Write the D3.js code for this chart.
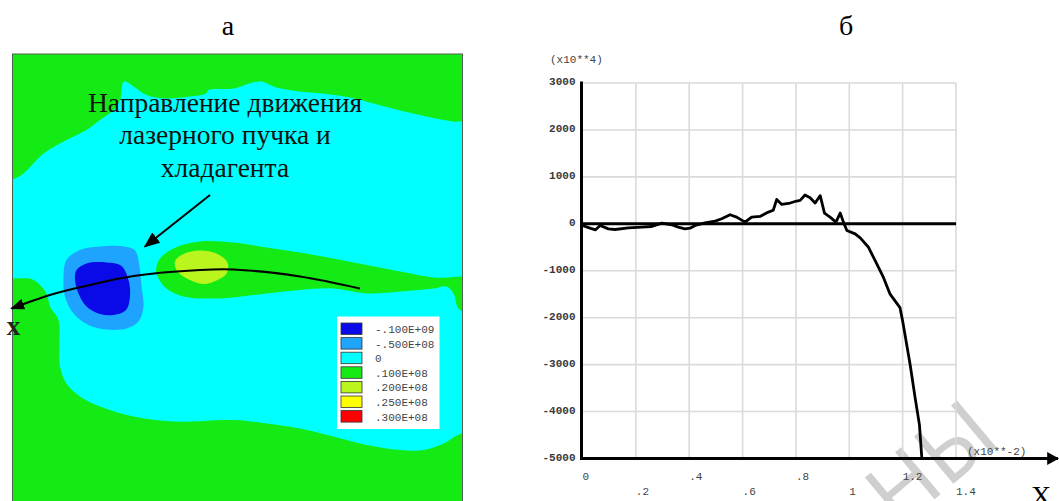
<!DOCTYPE html>
<html>
<head>
<meta charset="utf-8">
<script src="https://cdn.jsdelivr.net/npm/d3@7"></script>
<style>
  body { margin: 0; background: #fff; }
  svg { display: block; }
</style>
</head>
<body>
<div id="container"></div>
<script>
// ---------- panel а : stress field on the plate (plate units, 0..90) ----------
const legendLabels = ['-.100E+09', '-.500E+08', '0', '.100E+08', '.200E+08', '.250E+08', '.300E+08'];

// contour zones, [u, v] in plate units
const zeroZone = [[-3, 27.5], [2.2, 23.9], [6.2, 19.9], [10.8, 17.2], [14.8, 15.2], [17.5, 13.2], [20.2, 11.2],
    [21.5, 9.2], [22.3, 5.5], [24.2, 6.5], [26.8, 8.2], [30.8, 8.9], [35.5, 8.5], [38.7, 7.9], [39.2, 7.2],
    [44.2, 6.9], [49.5, 5.5], [52.8, 6.7], [57.5, 7.5], [62.8, 8.0], [67.5, 8.7], [72.2, 9.9], [77.5, 11.3],
    [82.8, 12.5], [88, 13.5], [93, 14.2], [93, 73.5], [88.5, 76.5], [86.2, 77.9], [82.2, 79.2], [77.5, 79.2],
    [70.8, 78.2], [64.2, 76.5], [57.5, 74.9], [50.8, 73.9], [44.2, 73.2], [32.2, 73.5], [24.2, 72.5],
    [17.5, 70.5], [13.5, 68.5], [10.8, 65.9], [9.5, 62.5], [9.4, 57.9], [9.2, 53.2], [7.5, 50.5],
    [6.8, 47.9], [4.2, 45.2], [-3, 44]]
const tensileBand = [[28.7, 43.2], [29.5, 40.9], [32.2, 38.9], [37.5, 37.5], [44.2, 37.7], [50.8, 38.7],
    [57.5, 39.7], [64.2, 40.9], [70.8, 42.2], [77.5, 43.5], [84.2, 44.7], [93, 45.2], [93, 52.5], [89.3, 51],
    [88.2, 47.9], [86.8, 46.5], [84.2, 46.9], [77.5, 47.5], [70.8, 47.9], [64.2, 46.9], [57.5, 47.2],
    [50.8, 47.9], [40.8, 48.9], [34.2, 48.5], [30.8, 46.9], [29.2, 44.9]]
const tensilePeak = [[32.5, 41.5], [34.2, 40.0], [37.5, 39.3], [40.8, 39.9], [43.0, 41.7], [42.8, 43.9],
    [40.8, 45.3], [38.2, 46.0], [35.5, 45.2], [33.0, 43.5]]
const compressZone = [[10.8, 41.2], [13.5, 39.2], [17.5, 38.5], [22.2, 38.5], [24.5, 39.3], [25.4, 42.5],
    [25.8, 46.5], [26.2, 50.5], [25.2, 53.5], [22.8, 54.9], [18.8, 55.1], [15.2, 54.2], [12.2, 51.9],
    [10.5, 48.5], [10.2, 44.5]]
const compressCore = [[12.8, 43.2], [14.8, 41.9], [18.8, 41.7], [21.8, 42.4], [23.2, 45.2], [23.5, 48.5],
    [22.7, 51.2], [20.2, 52.2], [17.5, 52.0], [14.8, 50.5], [13.2, 47.9], [12.5, 45.2]]

const zones = [
    {level: '0', pts: zeroZone},
    {level: '.100E+08', pts: tensileBand},
    {level: '.200E+08', pts: tensilePeak},
    {level: '-.500E+08', pts: compressZone},
    {level: '-.100E+09', pts: compressCore},
]

// path of the laser beam and coolant, plate units
const beamPath = [[69.5, 46.9], [57.5, 44.5], [44.2, 43.1], [37.5, 43.2], [24.2, 44.4], [14.2, 46.5], [7.5, 48.2], [-0.2, 50.9]]
const pointer = [[39.5, 28.2], [26.5, 38.5]]
const noteLines = ['Направление движения', 'лазерного пучка и', 'хладагента']

// ---------- panel б : stress along x ----------
// x in (x10**-2), stress in (x10**4)
const profile = [[0, -36], [0.028, -93], [0.049, -128], [0.066, -36], [0.097, -107], [0.122, -121],
    [0.172, -86], [0.222, -71], [0.26, -57], [0.297, 14], [0.334, -21], [0.359, -71], [0.384, -107],
    [0.403, -93], [0.422, -36], [0.459, 21], [0.497, 57], [0.522, 107], [0.553, 193], [0.578, 143],
    [0.609, 36], [0.634, 143], [0.665, 157], [0.697, 250], [0.715, 290], [0.728, 520], [0.747, 414],
    [0.778, 443], [0.803, 486], [0.816, 500], [0.834, 614], [0.853, 557], [0.872, 443], [0.891, 600],
    [0.907, 229], [0.928, 143], [0.950, 36], [0.966, 229], [0.978, 36], [0.991, -143], [1.022, -214],
    [1.041, -300], [1.072, -500], [1.097, -786], [1.128, -1143], [1.153, -1499], [1.190, -1786],
    [1.200, -2071], [1.228, -2998], [1.247, -3713], [1.263, -4283], [1.272, -5000]]
const yTicks = [3000, 2000, 1000, 0, -1000, -2000, -3000, -4000, -5000]
const xTicks = [0, 0.2, 0.4, 0.6, 0.8, 1, 1.2, 1.4]
const xTickLabels = ['0', '.2', '.4', '.6', '.8', '1', '1.2', '1.4']

const svg = d3.select('#container')
    .append('svg')
    .attr('width', 1059)
    .attr('height', 501)

const defs = svg.append('defs')
const addHead = (id, w, h) => defs.append('marker')
    .attr('id', id)
    .attr('viewBox', '0 0 10 10')
    .attr('preserveAspectRatio', 'none')
    .attr('refX', 9)
    .attr('refY', 5)
    .attr('markerUnits', 'userSpaceOnUse')
    .attr('markerWidth', w)
    .attr('markerHeight', h)
    .attr('orient', 'auto')
    .append('path')
    .attr('d', 'M0,0L10,5L0,10z')
    .attr('fill', '#000')
addHead('head-beam', 14, 11)
addHead('head-pointer', 16, 13)
addHead('head-axis', 12, 13)

const serif = '"Liberation Serif", "Times New Roman", serif'
const mono = '"Liberation Mono", "Courier New", monospace'

// ---- panel titles
svg.append('text').attr('x', 228).attr('y', 35).attr('text-anchor', 'middle')
    .style('font-family', serif).style('font-size', '28px').text('а')
svg.append('text').attr('x', 846).attr('y', 35).attr('text-anchor', 'middle')
    .style('font-family', serif).style('font-size', '28px').text('б')

// watermark of the source page (faint, behind the plot)
svg.append('text')
    .attr('transform', 'translate(898,530) rotate(-40)')
    .style('font-family', '"Noto Sans", sans-serif')
    .style('font-size', '86px')
    .style('fill', '#cfcfcf')
    .text('НЫ')

// ---- panel а
const plate = {left: 12.5, top: 54, size: 450}
const u = d3.scaleLinear().domain([0, 90]).range([plate.left, plate.left + plate.size])
const v = d3.scaleLinear().domain([0, 90]).range([plate.top, plate.top + plate.size])

const levelColor = d3.scaleOrdinal()
    .domain(legendLabels)
    .range(['#0a0ae8', '#1ea4ff', '#00ffff', '#14eb14', '#bbf51e', '#ffff00', '#ff0000'])

defs.append('clipPath').attr('id', 'plate-clip')
    .append('rect')
    .attr('x', u(0)).attr('y', v(0))
    .attr('width', u(90) - u(0)).attr('height', v(90) - v(0))

const field = svg.append('g').attr('clip-path', 'url(#plate-clip)')

field.append('rect')
    .attr('x', u(0)).attr('y', v(0))
    .attr('width', u(90) - u(0)).attr('height', v(90) - v(0))
    .attr('fill', levelColor('.100E+08'))

const zoneShape = d3.line()
    .x(d => u(d[0]))
    .y(d => v(d[1]))
    .curve(d3.curveCatmullRomClosed.alpha(0.5))

field.selectAll('path.zone')
    .data(zones)
    .join('path')
    .attr('class', 'zone')
    .attr('d', d => zoneShape(d.pts))
    .attr('fill', d => levelColor(d.level))

svg.append('rect')
    .attr('x', u(0)).attr('y', v(0))
    .attr('width', u(90) - u(0)).attr('height', v(90) - v(0))
    .attr('fill', 'none')
    .attr('stroke', '#4f5f4f')
    .attr('stroke-width', 1)

// annotation
svg.append('g')
    .selectAll('text')
    .data(noteLines)
    .join('text')
    .attr('x', u(42.5))
    .attr('y', (_, i) => v(11.5 + i * 6.5))
    .attr('text-anchor', 'middle')
    .style('font-family', serif)
    .style('font-size', '27.5px')
    .style('fill', '#111')
    .text(d => d)

const trace = d3.line().x(d => u(d[0])).y(d => v(d[1]))

svg.append('path')
    .attr('d', trace.curve(d3.curveCatmullRom.alpha(0.5))(beamPath))
    .attr('fill', 'none')
    .attr('stroke', '#000')
    .attr('stroke-width', 2)
    .attr('marker-end', 'url(#head-beam)')

svg.append('path')
    .attr('d', trace.curve(d3.curveLinear)(pointer))
    .attr('fill', 'none')
    .attr('stroke', '#000')
    .attr('stroke-width', 2)
    .attr('marker-end', 'url(#head-pointer)')

svg.append('text')
    .attr('x', u(0.2)).attr('y', v(56.2))
    .attr('text-anchor', 'middle')
    .style('font-family', serif)
    .style('font-size', '27px')
    .style('font-weight', 'bold')
    .style('fill', '#222')
    .text('x')

// legend
const legend = svg.append('g').attr('transform', 'translate(337,316.5)')
legend.append('rect')
    .attr('width', 102.5).attr('height', 112.5)
    .attr('fill', '#fff')
legend.selectAll('rect.swatch')
    .data(legendLabels)
    .join('rect')
    .attr('class', 'swatch')
    .attr('x', 4).attr('y', (_, i) => 6.5 + i * 14.6)
    .attr('width', 21).attr('height', 11.5)
    .attr('fill', d => levelColor(d))
    .attr('stroke', '#333')
    .attr('stroke-width', 0.8)
legend.selectAll('text')
    .data(legendLabels)
    .join('text')
    .attr('x', 38).attr('y', (_, i) => 16.5 + i * 14.6)
    .style('font-family', mono)
    .style('font-size', '11px')
    .style('fill', '#444')
    .text(d => d)

// ---- panel б
const x = d3.scaleLinear().domain([0, 1.4]).range([582.5, 956])
const y = d3.scaleLinear().domain([-5000, 3000]).range([458.5, 83])

const chart = svg.append('g')

chart.selectAll('line.vgrid')
    .data(xTicks.slice(1))
    .join('line')
    .attr('class', 'vgrid')
    .attr('x1', d => x(d)).attr('x2', d => x(d))
    .attr('y1', y(3000)).attr('y2', y(-5000))
    .attr('stroke', '#dadada')
    .attr('stroke-width', 1.6)

chart.selectAll('line.hgrid')
    .data(yTicks)
    .join('line')
    .attr('class', 'hgrid')
    .attr('x1', x(0)).attr('x2', x(1.4))
    .attr('y1', d => y(d)).attr('y2', d => y(d))
    .attr('stroke', '#dadada')
    .attr('stroke-width', 1.6)

// zero line
chart.append('line')
    .attr('x1', x(0)).attr('x2', x(1.4))
    .attr('y1', y(0)).attr('y2', y(0))
    .attr('stroke', '#000')
    .attr('stroke-width', 3)

const yAxis = chart.append('g')
    .attr('transform', `translate(${x(0) - 1},0)`)
    .call(d3.axisLeft(y).tickValues(yTicks).tickSize(0).tickPadding(6).tickFormat(d => String(d)))
yAxis.select('.domain').remove()
yAxis.selectAll('text')
    .attr('dy', '0.15em')
    .style('font-family', mono)
    .style('font-size', '11px')
    .style('font-weight', 'bold')
    .style('fill', '#3a3a3a')

chart.append('line')
    .attr('x1', x(0) - 1).attr('x2', x(0) - 1)
    .attr('y1', y(3000) - 1.5).attr('y2', y(-5000) + 1.5)
    .attr('stroke', '#000')
    .attr('stroke-width', 3)

chart.append('line')
    .attr('x1', x(0) - 2.5).attr('x2', 1058)
    .attr('y1', y(-5000)).attr('y2', y(-5000))
    .attr('stroke', '#000')
    .attr('stroke-width', 3)
    .attr('marker-end', 'url(#head-axis)')

chart.selectAll('text.xtick')
    .data(xTicks)
    .join('text')
    .attr('class', 'xtick')
    .attr('x', d => x(d))
    .attr('y', (_, i) => i % 2 ? 491.7 : 477)
    .attr('dominant-baseline', 'middle')
    .style('font-family', mono)
    .style('font-size', '11px')
    .style('fill', '#444')
    .text((_, i) => xTickLabels[i])

chart.append('text')
    .attr('x', 550).attr('y', 60)
    .attr('dominant-baseline', 'middle')
    .style('font-family', mono)
    .style('font-size', '11px')
    .style('fill', '#444')
    .text('(x10**4)')

chart.append('text')
    .attr('x', 967).attr('y', 452.5)
    .attr('dominant-baseline', 'middle')
    .style('font-family', mono)
    .style('font-size', '11px')
    .style('fill', '#444')
    .text('(x10**-2)')

chart.append('path')
    .datum(profile)
    .attr('d', d3.line().x(d => x(d[0])).y(d => y(d[1])))
    .attr('fill', 'none')
    .attr('stroke', '#000')
    .attr('stroke-width', 2.8)
    .attr('stroke-linejoin', 'round')

chart.append('text')
    .attr('x', 1041).attr('y', 505)
    .attr('text-anchor', 'middle')
    .style('font-family', serif)
    .style('font-size', '28px')
    .text('X')
</script>
</body>
</html>
